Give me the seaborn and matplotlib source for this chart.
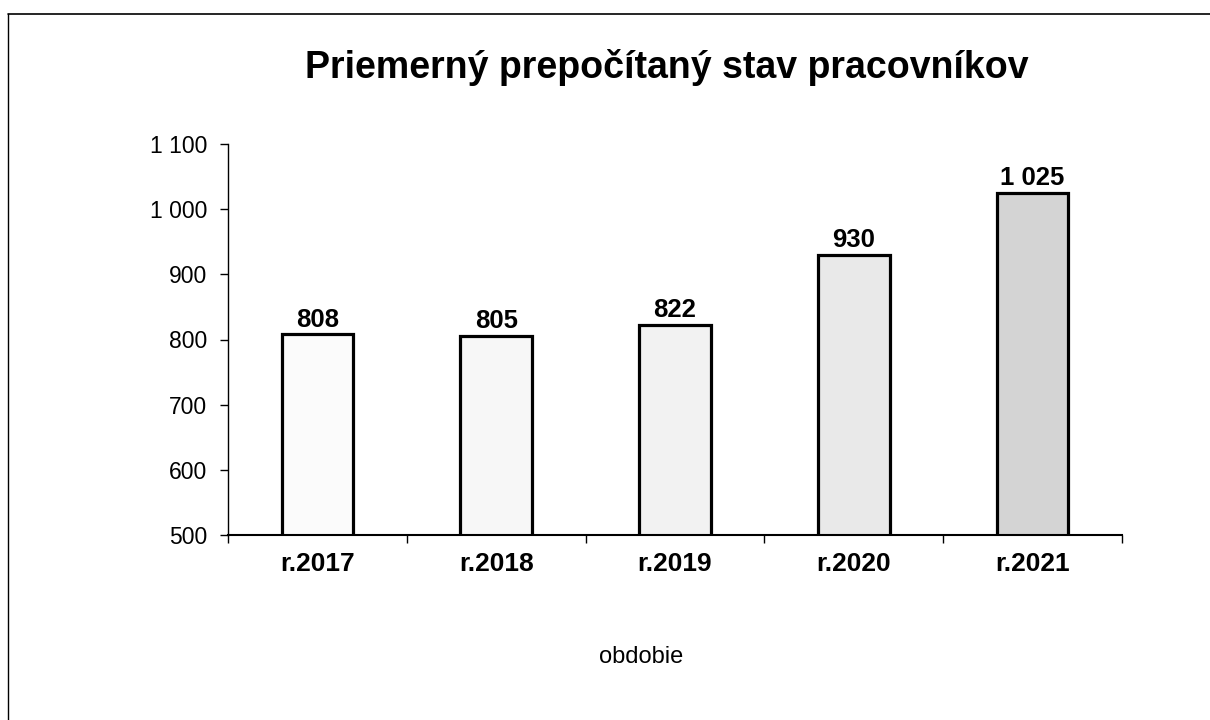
import matplotlib
matplotlib.use("Agg")
import matplotlib.pyplot as plt
import seaborn as sns
from matplotlib.ticker import FuncFormatter, FixedLocator
from matplotlib.lines import Line2D

years = ["r.2017", "r.2018", "r.2019", "r.2020", "r.2021"]
staff = [808, 805, 822, 930, 1025]
bar_colors = ["#fbfbfb", "#f7f7f7", "#f2f2f2", "#e9e9e9", "#d4d4d4"]

title = "Priemerný prepočítaný stav pracovníkov"
xlab = "obdobie"


def sk_fmt(v, pos=None):
    return f"{v:,.0f}".replace(",", " ")


sns.set_theme(style="ticks")
plt.rcParams["font.family"] = ["Liberation Sans", "DejaVu Sans"]
plt.rcParams["text.color"] = "black"
plt.rcParams["xtick.color"] = "black"
plt.rcParams["ytick.color"] = "black"
plt.rcParams["axes.labelcolor"] = "black"

fig = plt.figure(figsize=(12.1, 7.2), dpi=100)
fig.patch.set_facecolor("white")
ax = fig.add_axes([228 / 1210, 1 - 535 / 720, 894 / 1210, 391 / 720])

sns.barplot(x=years, y=staff, color="white", width=0.4,
            edgecolor="black", linewidth=2.3, saturation=1, ax=ax)
for patch, col in zip(ax.patches, bar_colors):
    patch.set_facecolor(col)

ax.set_ylim(500, 1100)
ax.set_xlim(-0.5, len(years) - 0.5)
ax.yaxis.set_major_formatter(FuncFormatter(sk_fmt))
ax.set_yticks(range(500, 1101, 100))

ax.bar_label(ax.containers[0], labels=[sk_fmt(v) for v in staff], padding=2,
             fontsize=18.5, fontweight="bold", color="black")

# tick marks between categories
ax.xaxis.set_minor_locator(FixedLocator([i - 0.5 for i in range(len(years) + 1)]))
ax.tick_params(axis="x", which="major", bottom=True, length=0, pad=12, labelsize=19)
ax.tick_params(axis="x", which="minor", bottom=True, length=6, width=1,
               color="black", direction="out")
ax.tick_params(axis="y", which="major", left=True, length=6, width=1, color="black",
               direction="out", pad=9, labelsize=16.5)
for lbl in ax.get_xticklabels():
    lbl.set_fontweight("bold")

for s in ["top", "right"]:
    ax.spines[s].set_visible(False)
ax.spines["left"].set_color("black")
ax.spines["left"].set_linewidth(1)
ax.spines["bottom"].set_color("black")
ax.spines["bottom"].set_linewidth(1.5)
ax.set_xlabel("")
ax.set_ylabel("")

fig.text(667 / 1210, 1 - 78 / 720, title, ha="center", va="baseline",
         fontsize=27, fontweight="bold")
fig.text(641 / 1210, 1 - 663 / 720, xlab, ha="center", va="baseline", fontsize=17)

# scanned frame around the chart (top and left edges visible)
fig.add_artist(Line2D([8 / 1210, 1], [1 - 14 / 720, 1 - 14 / 720],
                      transform=fig.transFigure, color="black", lw=1.2))
fig.add_artist(Line2D([8 / 1210, 8 / 1210], [0, 1 - 14 / 720],
                      transform=fig.transFigure, color="black", lw=1.0))

fig.savefig("out.png", dpi=100)
plt.close(fig)
